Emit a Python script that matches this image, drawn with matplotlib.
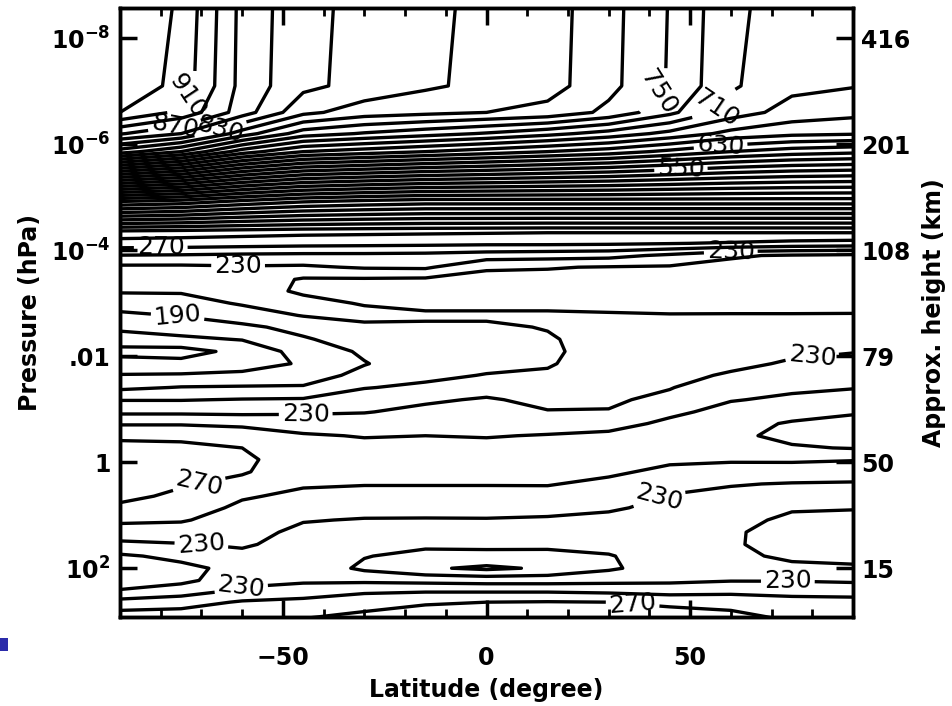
import numpy as np
import matplotlib
matplotlib.use("Agg")
import matplotlib.pyplot as plt
from matplotlib.patches import Rectangle

plt.rcParams['font.family'] = ['DejaVu Sans']

# ---------------- data ----------------
latitude = [-90, -75, -60, -45, -30, -15, 0, 15, 30, 45, 60, 75, 90]

# log10(pressure / hPa) levels of the table rows
log_pressure = [-8.7, -7.1, -6.6, -6.2, -5.86, -4.92, -4.33, -4.13, -3.9, -3.68, -3.45,
                -3.23, -3.0, -2.77, -2.55, -2.32, -2.09, -1.86, -1.64, -1.41, -1.18,
                -0.95, -0.73, -0.5, -0.27, -0.05, 0.18, 0.41, 0.64, 0.86, 1.09, 1.32,
                1.55, 1.77, 2.0, 2.23, 2.45, 2.64, 2.95]

# temperature (K), one row per pressure level, one column per latitude
temperature = [
    [950, 927, 864, 836, 824, 814, 806, 799, 777, 749, 715, 700, 693],
    [946, 923, 863, 835, 823, 813, 805, 798, 776, 748, 713, 695, 691],
    [930, 905, 860, 815, 800, 795, 790, 784, 765, 735, 700, 682, 676],
    [872, 850, 800, 760, 748, 738, 728, 716, 702, 684, 664, 655, 652],
    [800, 770, 720, 690, 680, 670, 660, 650, 640, 625, 610, 600, 595],
    [470, 462, 445, 432, 425, 420, 420, 420, 420, 420, 420, 420, 420],
    [300, 298, 296, 294, 293, 292, 291, 290, 290, 290, 290, 290, 290],
    [282, 281, 279, 277, 276, 275, 274, 274, 273, 271, 268, 264, 262],
    [249, 248, 246, 245, 245, 244, 240, 238, 236, 226, 212, 208, 206],
    [226, 226, 228, 227, 232, 233, 212, 211, 209, 208, 205, 204, 204],
    [220, 219, 222, 208, 208, 207, 205, 205, 204, 203, 202, 202, 202],
    [212, 212, 216, 208, 205, 204, 203, 203, 202, 201, 201, 201, 201],
    [199, 202, 212, 214, 209, 205, 205, 205, 204, 203, 204, 204, 205],
    [186, 191, 200, 211, 214, 213, 213, 213, 212, 211, 211, 211, 211],
    [175, 180, 186, 196, 207, 207, 207, 211, 215, 214, 215, 216, 217],
    [160, 166, 171, 188, 199, 201, 202, 208, 218, 217, 218, 222, 224],
    [144, 142, 156, 178, 193, 199, 201, 206, 220, 220, 221, 227, 229],
    [158, 156, 162, 172, 189, 201, 204, 208, 221, 222, 226, 232, 237],
    [171, 172, 174, 180, 196, 205, 211, 213, 222, 225, 232, 240, 244],
    [186, 191, 192, 192, 209, 214, 222, 219, 224, 229, 242, 247, 249],
    [209, 209, 211, 212, 221, 227, 232, 225, 227, 235, 249, 253, 258],
    [226, 226, 225, 227, 229, 235, 239, 231, 231, 246, 256, 262, 268],
    [248, 248, 246, 241, 240, 243, 245, 242, 243, 254, 263, 272, 276],
    [266, 266, 260, 252, 249, 250, 249, 251, 254, 262, 266, 275, 278],
    [276, 274, 270, 258, 255, 256, 255, 258, 261, 260, 261, 268, 271],
    [282, 278, 273, 262, 258, 259, 258, 260, 261, 253, 252, 253, 251],
    [284, 277, 272, 258, 255, 256, 256, 257, 253, 246, 243, 240, 240],
    [280, 272, 264, 252, 251, 251, 251, 251, 246, 236, 231, 229, 228],
    [275, 266, 252, 246, 243, 243, 243, 244, 240, 229, 226, 220, 220],
    [266, 260, 246, 238, 236, 235, 236, 235, 232, 226, 220, 212, 211],
    [254, 252, 240, 231, 229, 229, 229, 228, 226, 223, 216, 206, 205],
    [240, 240, 236, 226, 224, 222, 222, 221, 220, 220, 213, 201, 200],
    [226, 229, 232, 224, 218, 214, 214, 213, 215, 218, 213, 200, 199],
    [207, 215, 226, 223, 211, 204, 205, 206, 209, 218, 216, 205, 204],
    [202, 205, 216, 224, 206, 193, 186, 193, 207, 220, 222, 216, 213],
    [203, 205, 222, 227, 226, 224, 222, 222, 224, 226, 229, 229, 227],
    [212, 222, 236, 240, 248, 250, 250, 250, 248, 244, 246, 244, 244],
    [238, 242, 252, 256, 262, 268, 270, 271, 270, 266, 264, 258, 256],
    [262, 262, 266, 270, 276, 280, 284, 285, 284, 280, 276, 268, 266],
]

contour_levels = list(range(150, 940, 20))
label_levels = [v for v in contour_levels if (v - 30) % 40 == 0]
plain_levels = [v for v in contour_levels if v not in label_levels]

pressure_ticks = [-8, -6, -4, -2, 0, 2]
pressure_labels = [r'$\mathbf{10^{-8}}$', r'$\mathbf{10^{-6}}$', r'$\mathbf{10^{-4}}$',
                   '.01', '1', r'$\mathbf{10^{2}}$']
height_labels = ['416', '201', '108', '79', '50', '15']
lat_ticks = [-50, 0, 50]

# label anchor points (latitude, log10 p)
label_points = [(-71.6, -6.81), (42, -7.0), (56, -6.71), (57.5, -5.95), (47.7, -5.61),
                (-76.5, -6.3), (-65, -6.2),
                (-80, -4.1), (-61, -3.72), (60, -3.95), (-75.8, -2.8),
                (-44.4, -0.9), (79.8, -2.13), (-70.4, 0.48), (42, 0.58),
                (-70, 1.53), (-60, 2.47), (74, 2.3), (35.8, 2.76)]

# ---------------- figure ----------------
W, H = 952, 706
Y_BOT, Y_TOP = 2.92, -8.57
fig = plt.figure(figsize=(W / 100, H / 100), dpi=100)
ax = fig.add_axes([120 / W, 1 - 617 / H, (853 - 120) / W, (617 - 8) / H])

lat = np.array(latitude)
lp = np.array(log_pressure)
T = np.array(temperature, dtype=float)

ax.contour(lat, lp, T, levels=plain_levels, colors='k', linewidths=2.4)
cs = ax.contour(lat, lp, T, levels=label_levels, colors='k', linewidths=2.4)
ax.clabel(cs, manual=label_points, inline=True, fmt='%d', fontsize=18,
          inline_spacing=3)

ax.set_xlim(-90, 90)
ax.set_ylim(Y_BOT, Y_TOP)

ax.set_xticks(lat_ticks)
ax.set_xticklabels(['\u221250', '0', '50'])
ax.set_xticks(np.arange(-90, 91, 10), minor=True)
ax.set_yticks(pressure_ticks)
ax.set_yticklabels(pressure_labels)
ax.tick_params(axis='both', which='major', direction='in', length=12, width=2.5,
               labelsize=17, top=True)
ax.tick_params(axis='x', which='major', pad=21)
ax.tick_params(axis='y', which='major', pad=7)
ax.tick_params(axis='x', which='minor', direction='in', length=6, width=2, top=True)
ax.tick_params(axis='y', which='both', right=False)
for lab in ax.get_xticklabels() + ax.get_yticklabels():
    lab.set_fontweight('bold')

ax2 = ax.twinx()
ax2.set_ylim(Y_BOT, Y_TOP)
ax2.set_yticks(pressure_ticks)
ax2.set_yticklabels(height_labels)
ax2.tick_params(axis='y', direction='in', length=12, width=2.5, labelsize=17, pad=6)
for lab in ax2.get_yticklabels():
    lab.set_fontweight('bold')

for a in (ax, ax2):
    for s in a.spines.values():
        s.set_linewidth(2.5)

ax.set_xlabel('Latitude (degree)', fontsize=17, fontweight='bold', labelpad=6)
ax.set_ylabel('Pressure (hPa)', fontsize=17, fontweight='bold', labelpad=6)
ax2.set_ylabel('Approx. height (km)', fontsize=17, fontweight='bold', labelpad=8)

fig.add_artist(Rectangle((0, 1 - 651 / H), 8 / W, 13 / H, transform=fig.transFigure,
                         facecolor='#2b2baa', edgecolor='none'))

fig.savefig('out.png', dpi=100)
